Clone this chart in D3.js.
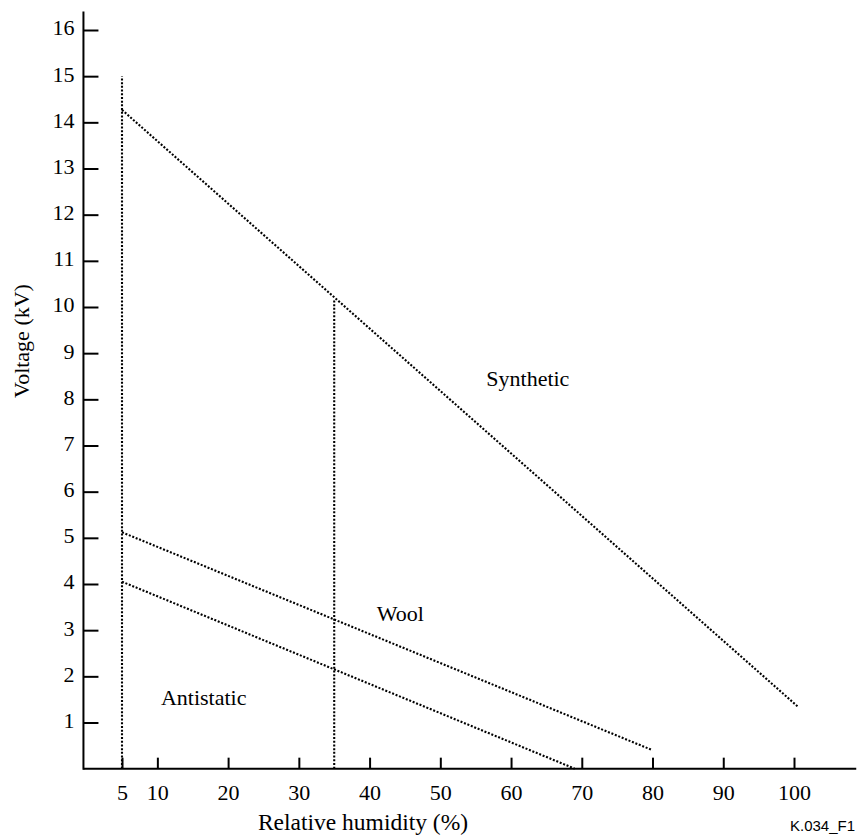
<!DOCTYPE html>
<html>
<head>
  <title>Voltage vs relative humidity</title>
  <script src="https://d3js.org/d3.v7.min.js"></script>
  <style>
    body {
      margin: 0;
      background: #fff;
    }
    svg text {
      font-family: 'Liberation Serif', 'Times New Roman', serif;
      fill: #000;
    }
    .dots {
      fill: none;
      stroke: #000;
      stroke-width: 2.1;
      stroke-dasharray: 2, 1.7;
    }
  </style>
</head>
<body>
  <div id="chart"></div>

  <script>
    // Data
    const xTicks = [5, 10, 20, 30, 40, 50, 60, 70, 80, 90, 100];
    const yTicks = [1, 2, 3, 4, 5, 6, 7, 8, 9, 10, 11, 12, 13, 14, 15, 16];

    const synthetic = [[5, 14.27], [100.5, 1.35]];
    const wool = [[5, 5.12], [80, 0.4]];
    const antistatic = [[5, 4.05], [69, 0]];
    const limit5 = [[5, 0], [5, 15]];
    const limit35 = [[35, 0], [35, 10.18]];

    const labelNames = ["Synthetic", "Wool", "Antistatic"];
    const labelX = [56.5, 41, 10.5];
    const labelY = [8.28, 3.19, 1.38];

    const width = 858;
    const height = 840;

    const x = d3.scaleLinear().domain([5, 100]).range([122, 794]);
    const y = d3.scaleLinear().domain([1, 16]).range([722.5, 30]);

    const svg = d3.select("#chart")
      .append("svg")
      .attr("width", width)
      .attr("height", height);

    // Axes (ticks point inward)
    const xAxis = svg.append("g")
      .attr("transform", "translate(0," + y(0) + ")")
      .call(d3.axisTop(x).tickValues(xTicks).tickSize(11).tickFormat(d3.format("d")));

    const yAxis = svg.append("g")
      .attr("transform", "translate(" + x(-0.45) + ",0)")
      .call(d3.axisRight(y).tickValues(yTicks).tickSize(15).tickFormat(d3.format("d")));

    [xAxis, yAxis].forEach(function(g) {
      g.select(".domain").remove();
      g.selectAll(".tick line").attr("stroke", "#000").attr("stroke-width", 2);
      g.selectAll(".tick text").style("font-size", "22px");
    });

    xAxis.selectAll(".tick text")
      .attr("y", 0)
      .attr("dy", 0)
      .attr("transform", "translate(0,31)");

    yAxis.selectAll(".tick text")
      .attr("x", -9)
      .attr("dy", "0.22em")
      .attr("text-anchor", "end");

    // axis lines
    svg.append("line")
      .attr("x1", x(-0.45)).attr("x2", x(108.8))
      .attr("y1", y(0)).attr("y2", y(0))
      .attr("stroke", "#000").attr("stroke-width", 2);

    svg.append("line")
      .attr("x1", x(-0.45)).attr("x2", x(-0.45))
      .attr("y1", y(0) + 1).attr("y2", y(16.4))
      .attr("stroke", "#000").attr("stroke-width", 2);

    // dotted curves
    const line = d3.line()
      .x(function(d) { return x(d[0]); })
      .y(function(d) { return y(d[1]); });

    [limit5, limit35, synthetic, wool, antistatic].forEach(function(s) {
      svg.append("path")
        .attr("class", "dots")
        .attr("d", line(s));
    });

    // curve labels
    labelNames.forEach(function(name, i) {
      svg.append("text")
        .attr("x", x(labelX[i]))
        .attr("y", y(labelY[i]))
        .style("font-size", "22px")
        .text(name);
    });

    // axis titles
    svg.append("text")
      .attr("x", 363)
      .attr("y", 830)
      .attr("text-anchor", "middle")
      .style("font-size", "23.5px")
      .text("Relative humidity (%)");

    svg.append("text")
      .attr("transform", "translate(29,341) rotate(-90)")
      .attr("text-anchor", "middle")
      .style("font-size", "22px")
      .text("Voltage (kV)");

    svg.append("text")
      .attr("x", 855)
      .attr("y", 831)
      .attr("text-anchor", "end")
      .style("font-family", "'Liberation Sans', Arial, sans-serif")
      .style("font-size", "15px")
      .text("K.034_F1");
  </script>
</body>
</html>
